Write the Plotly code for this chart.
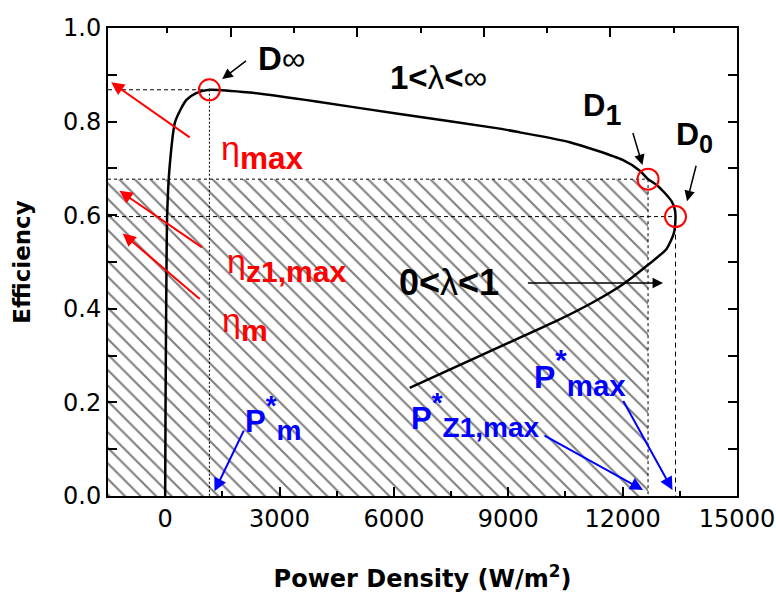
import plotly.graph_objects as go

# ---------------- data ----------------
x_range = [-1500, 15000]
y_range = [0.0, 1.0]
x_ticks = [0, 3000, 6000, 9000, 12000, 15000]
y_ticks = [0.0, 0.2, 0.4, 0.6, 0.8, 1.0]

# efficiency vs power density loop (lower branch -> D0 -> upper branch -> origin)
curve_x = [6413, 8513, 10264, 11224, 12000, 12668, 13151, 13342, 13387,
           13370, 13282, 13100, 12900, 12667, 12450, 12000, 10614, 9302, 8776, 6151,
           3963, 2218, 1160, 814, 551, 262, 113, 52, 26, 10, 0]
curve_y = [0.231, 0.309, 0.374, 0.414, 0.452, 0.494, 0.528, 0.561, 0.597,
           0.612, 0.630, 0.648, 0.664, 0.677, 0.695, 0.718, 0.756, 0.777, 0.785, 0.816,
           0.843, 0.862, 0.868, 0.861, 0.846, 0.800, 0.700, 0.600, 0.400, 0.200, 0.0]

# special points D_inf, D_1, D_0
point_names = ["D∞", "D1", "D0"]
point_x = [1160, 12667, 13387]
point_y = [0.868, 0.677, 0.597]

FONT_AX = "DejaVu Sans"
FONT_AN = "Liberation Sans, Arial"
RED = "#ff0000"
BLUE = "#0000ff"

fig = go.Figure()

# hatched region below D1
fig.add_trace(go.Scatter(
    x=[x_range[0], point_x[1], point_x[1], x_range[0], x_range[0]],
    y=[0, 0, point_y[1], point_y[1], 0],
    mode="lines", fill="toself", line=dict(width=0, color="rgba(0,0,0,0)"),
    fillcolor="rgba(255,255,255,0)",
    fillpattern=dict(shape="\\", size=11, solidity=0.19, fgcolor="black",
                     bgcolor="rgba(255,255,255,0)", fillmode="overlay"),
    hoverinfo="skip", showlegend=False))

# guide lines
dash_h = ["4px,3px", "3px,3px", "4px,3px"]
dash_v = ["2px,2px", "3px,3px", "5px,4px"]
for i in range(3):
    fig.add_trace(go.Scatter(x=[x_range[0], point_x[i]], y=[point_y[i], point_y[i]],
                             mode="lines", line=dict(color="black", width=1, dash=dash_h[i]),
                             hoverinfo="skip", showlegend=False))
    fig.add_trace(go.Scatter(x=[point_x[i], point_x[i]], y=[point_y[i], 0],
                             mode="lines", line=dict(color="black", width=1, dash=dash_v[i]),
                             hoverinfo="skip", showlegend=False))

# main curve
fig.add_trace(go.Scatter(x=curve_x, y=curve_y, mode="lines",
                         line=dict(color="black", width=2.5, shape="spline", smoothing=0.6),
                         showlegend=False))

# circles
fig.add_trace(go.Scatter(x=point_x, y=point_y, mode="markers", text=point_names,
                         marker=dict(symbol="circle-open", size=21, color=RED,
                                     line=dict(width=2, color=RED)),
                         showlegend=False))

# helper invisible trace for the top axis
fig.add_trace(go.Scatter(x=[0.03, 5.0], y=[None, None], xaxis="x2", yaxis="y",
                         mode="lines", showlegend=False, hoverinfo="skip"))

# ---------------- annotations ----------------
arrows = [
    # (tail_x, tail_y, head_x, head_y, color, width, size)
    (2160, 0.932, 1496, 0.891, "black", 1.5, 1.4),
    (12257, 0.779, 12520, 0.707, "black", 1.5, 1.4),
    (13937, 0.709, 13690, 0.630, "black", 1.5, 1.4),
    (9475, 0.455, 13061, 0.455, "black", 1.5, 1.4),
    (682, 0.764, -1417, 0.884, RED, 2, 1.3),
    (1005, 0.529, -1200, 0.652, RED, 2, 1.3),
    (945, 0.418, -1113, 0.561, RED, 2, 1.3),
    (2081, 0.143, 1294, 0.010, BLUE, 2, 1.3),
    (9911, 0.131, 12536, 0.013, BLUE, 2, 1.3),
    (11995, 0.206, 13307, 0.013, BLUE, 2, 1.3),
]
annotations = []
for tx, ty, hx, hy, c, w, s in arrows:
    annotations.append(dict(x=hx, y=hy, ax=tx, ay=ty, xref="x", yref="y", axref="x", ayref="y",
                            text="", showarrow=True, arrowhead=2, arrowsize=s, arrowwidth=w,
                            arrowcolor=c, standoff=0, startstandoff=0))

labels = [
    # (x, y, text, size, color)
    (3042, 0.934, "<b>D</b>∞", 33, "black"),
    (7178, 0.894, "<b>1&lt;</b>λ<b>&lt;</b>∞", 33, "black"),
    (11452, 0.825, "<span style='font-size:31px'><b>D</b></span><sub><b>1</b></sub>", 41, "black"),
    (13882, 0.768, "<span style='font-size:32px'><b>D</b></span><sub><b>0</b></sub>", 36, "black"),
    (7454, 0.456, "<b>0&lt;</b>λ<b>&lt;1</b>", 36, "black"),
    (2543, 0.734, "<span style='font-size:34px'>η</span><sub><b>max</b></sub>", 45, RED),
    (3192, 0.493, "<span style='font-size:34px'>η</span><sub><b>z1,max</b></sub>", 43, RED),
    (2092, 0.368, "<span style='font-size:34px'>η</span><sub><b>m</b></sub>", 43, RED),
    (2850, 0.167, "<span style='font-size:31px'><b>P</b></span><sup><b>*</b></sup><sub><b>m</b></sub>", 40, BLUE),
    (8152, 0.174, "<span style='font-size:31px'><b>P</b></span><sup><b>*</b></sup><sub><b>Z1,max</b></sub>", 40, BLUE),
    (10875, 0.264, "<span style='font-size:32px'><b>P</b></span><sup><b>*</b></sup><sub><b>max</b></sub>", 42, BLUE),
]
for x, y, t, fs, c in labels:
    annotations.append(dict(x=x, y=y, xref="x", yref="y", text=t, showarrow=False,
                            xanchor="center", yanchor="middle",
                            font=dict(family=FONT_AN, size=fs, color=c)))

fig.update_layout(
    width=776, height=593,
    margin=dict(l=108, r=39, t=28, b=97),
    paper_bgcolor="white", plot_bgcolor="white",
    font=dict(family=FONT_AX, size=24, color="black"),
    annotations=annotations,
    xaxis=dict(range=x_range, tickmode="array", tickvals=x_ticks,
               ticktext=[str(v) for v in x_ticks], automargin=False,
               ticks="inside", ticklen=9, tickwidth=1.5, tickcolor="black",
               showline=True, linewidth=2, linecolor="black", mirror=True,
               showgrid=False, zeroline=False,
               minor=dict(tickmode="linear", tick0=0, dtick=1500, ticks="inside",
                          ticklen=5, tickwidth=1.5, tickcolor="black", showgrid=False),
               tickfont=dict(family=FONT_AX, size=24),
               title=dict(text="<b>Power Density (W/m<sup>2</sup>)</b>",
                          font=dict(family=FONT_AX, size=24), standoff=40)),
    xaxis2=dict(overlaying="x", side="top", range=[0.03, 5.0], tickmode="linear",
                tick0=0, dtick=1, ticks="inside", ticklen=9, tickwidth=1.5, tickcolor="black",
                showticklabels=False, showgrid=False, zeroline=False, showline=False,
                automargin=False,
                minor=dict(tickmode="linear", tick0=0, dtick=0.5, ticks="inside",
                           ticklen=5, tickwidth=1.5, tickcolor="black", showgrid=False)),
    yaxis=dict(range=y_range, tickmode="array", tickvals=y_ticks,
               ticktext=[f"{v:.1f}" for v in y_ticks], automargin=False,
               ticks="inside", ticklen=9, tickwidth=1.5, tickcolor="black",
               showline=True, linewidth=2, linecolor="black", mirror="allticks",
               showgrid=False, zeroline=False,
               minor=dict(tickmode="linear", tick0=0, dtick=0.1, ticks="inside",
                          ticklen=5, tickwidth=1.5, tickcolor="black", showgrid=False),
               tickfont=dict(family=FONT_AX, size=24),
               title=dict(text="<b>Efficiency</b>", font=dict(family=FONT_AX, size=23),
                          standoff=26)),
)

fig.write_html("out.html")
